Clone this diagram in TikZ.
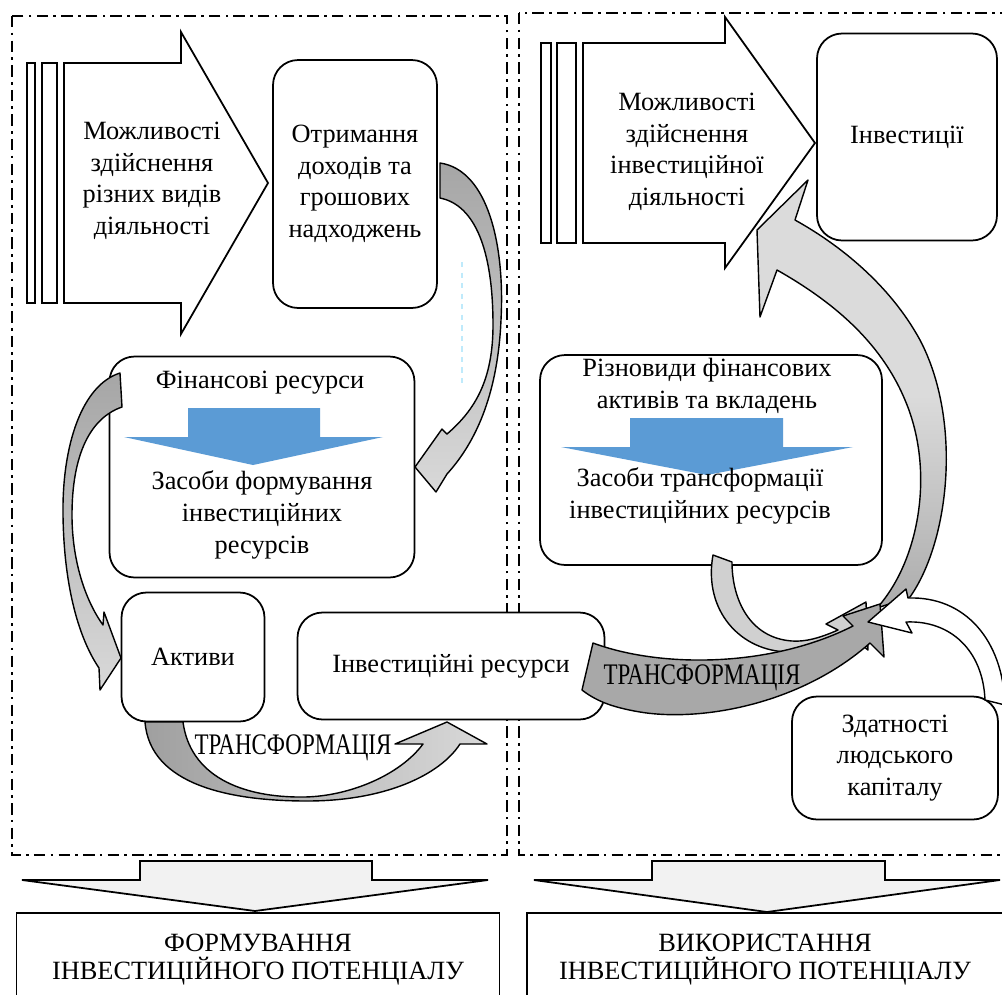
\documentclass[tikz,border=0pt]{standalone}
\usepackage{fontspec}
\setmainfont{Liberation Serif}
\usepackage{graphicx}
\definecolor{arrblue}{RGB}{91,155,213}
\tikzset{
  box/.style={draw, line width=1pt, rounded corners=0.5cm, fill=white, align=center},
  flatbox/.style={draw, line width=1pt, fill=white, align=center},
  frame/.style={line width=1pt, dash pattern=on 6.5pt off 3pt on 1.5pt off 3pt},
  band/.style={draw, line width=0.8pt, line join=round},
  txt/.style={align=center, inner sep=0pt},
  bigcaps/.style={font=\fontsize{17}{18}\selectfont},
}
\begin{document}
\begin{tikzpicture}[x=0.02cm, y=-0.02cm, font=\fontsize{15}{18}\selectfont]
\useasboundingbox (0,0) rectangle (1002,995);
\clip (0,0) rectangle (1002,995);

% frames
\draw[frame] (12,16) rectangle (507,855);
\draw[frame] (519,13) rectangle (1030,855);
\draw[cyan!25, dashed, line width=0.6pt] (462,262) -- (462,383);

% big arrows
\draw[line width=1pt, fill=white] (27,63) rectangle (35,303);
\draw[line width=1pt, fill=white] (42,63) rectangle (57,303);
\draw[line width=1pt, fill=white] (64,63) -- (181,63) -- (181,32) -- (268,183) -- (181,334) -- (181,303) -- (64,303) -- cycle;
\node[txt] (chances) at (152,181) {Можливості\\здійснення\\різних видів\\діяльності};

\draw[line width=1pt, fill=white] (541,43) rectangle (551,243);
\draw[line width=1pt, fill=white] (557,43) rectangle (576,243);
\draw[line width=1pt, fill=white] (583,43) -- (725,43) -- (725,17) -- (815,143) -- (725,268) -- (725,243) -- (583,243) -- cycle;
\node[txt] (invchances) at (687,152) {Можливості\\здійснення\\інвестиційної\\діяльності};

% boxes
\node[box, minimum width=3.28cm, minimum height=4.96cm] (income) at (355,184) {Отримання\\доходів та\\грошових\\надходжень};
\node[box, minimum width=3.6cm, minimum height=4.14cm] (invest) at (907,137) {Інвестиції};
\node[box, minimum width=6.1cm, minimum height=4.42cm] (finres) at (262,467) {};
\node[box, minimum width=6.84cm, minimum height=4.2cm] (kinds) at (711,460) {};
\node[box, minimum width=2.86cm, minimum height=2.58cm] (assets) at (193,657) {Активи};
\node[box, minimum width=6.14cm, minimum height=2.14cm] (invres) at (451,666) {Інвестиційні ресурси};
\node[box, minimum width=4.12cm, minimum height=2.46cm] (human) at (895,758) {Здатності\\людського\\капіталу};

% blue arrows inside
\fill[arrblue] (188,408) -- (320,408) -- (320,437) -- (383,437) -- (253,465) -- (124,437) -- (188,437) -- cycle;
\fill[arrblue] (630,418) -- (783,418) -- (783,447) -- (853,447) -- (707,475) -- (561,447) -- (630,447) -- cycle;
\node[txt] (fintop) at (260,383) {Фінансові ресурси};
\node[txt] (finbot) at (262,515) {Засоби формування\\інвестиційних\\ресурсів};
\node[txt] (kindstop) at (707,386) {Різновиди фінансових\\активів та вкладень};
\node[txt] (kindsbot) at (700,496) {Засоби трансформації\\інвестиційних ресурсів};

% curved arrows, left part
\draw[band, top color=gray!70, bottom color=gray!30]
  (440,163) .. controls (488,170) and (505,245) .. (501,320)
  .. controls (498,390) and (478,440) .. (447,474)
  -- (436,492) -- (415,467) -- (442,429) -- (447,434)
  .. controls (475,410) and (493,380) .. (493,325)
  .. controls (493,250) and (475,205) .. (440,198) -- cycle;
\draw[band, top color=gray!70, bottom color=gray!30]
  (120,373) .. controls (82,385) and (62,445) .. (63,515)
  .. controls (64,590) and (80,640) .. (99,668)
  -- (100,690) -- (121,658) -- (104,612) -- (103,625)
  .. controls (85,600) and (72,560) .. (72,515)
  .. controls (72,455) and (90,418) .. (122,407) -- cycle;
\draw[band, left color=gray!75, right color=gray!30]
  (145,722) .. controls (150,785) and (230,801) .. (307,801)
  .. controls (385,801) and (440,775) .. (460,744)
  -- (487,744) -- (447,722) -- (395,744) -- (423,744)
  .. controls (400,775) and (350,796) .. (305,797)
  .. controls (240,798) and (190,775) .. (183,722) -- cycle;
\node[txt, bigcaps] (transleft) at (293,748) {\scalebox{0.77}[1]{ТРАНСФОРМАЦІЯ}};

% curved arrows, right part
\draw[band, top color=gray!28, bottom color=gray!65, middle color=gray!28]
  (910,597) .. controls (950,540) and (962,420) .. (920,340)
  .. controls (890,285) and (840,245) .. (795,220)
  -- (808,180) -- (757,230) -- (760,317) -- (777,270)
  .. controls (830,300) and (880,340) .. (905,400)
  .. controls (935,470) and (920,560) .. (877,608) -- cycle;
\draw[band, fill=gray!37]
  (713,555) .. controls (703,610) and (740,652) .. (790,652)
  .. controls (820,652) and (840,645) .. (853,638)
  -- (868,650) -- (866,602) -- (826,624) -- (838,630)
  .. controls (820,638) and (805,642) .. (792,641)
  .. controls (750,638) and (732,600) .. (732,562) -- cycle;
\draw[band, fill=gray!68]
  (593,643) .. controls (660,668) and (770,668) .. (853,626)
  -- (843,616) -- (880,604) -- (884,657) -- (870,643)
  .. controls (800,705) and (700,722) .. (640,712)
  .. controls (610,707) and (595,700) .. (582,690) -- cycle;
\draw[band, fill=white]
  (1005,705) .. controls (1003,640) and (965,596) .. (908,598)
  -- (906,589) -- (868,622) -- (912,633) -- (906,622)
  .. controls (950,620) and (983,650) .. (985,700) -- cycle;
\node[txt, bigcaps] (transright) at (702,678) {\scalebox{0.77}[1]{ТРАНСФОРМАЦІЯ}};

% bottom arrows and boxes
\draw[line width=1pt, fill=gray!10] (140,861) -- (372,861) -- (372,880) -- (488,880) -- (255,911) -- (22,880) -- (140,880) -- cycle;
\draw[line width=1pt, fill=gray!10] (652,861) -- (885,861) -- (885,880) -- (1000,880) -- (767,912) -- (534,880) -- (652,880) -- cycle;
\node[flatbox, minimum width=9.66cm, minimum height=1.88cm, font=\fontsize{15}{16}\selectfont] (forming) at (258,960) {ФОРМУВАННЯ\\ІНВЕСТИЦІЙНОГО ПОТЕНЦІАЛУ};
\node[flatbox, minimum width=9.52cm, minimum height=1.88cm, font=\fontsize{15}{16}\selectfont] (usage) at (765,960) {ВИКОРИСТАННЯ\\ІНВЕСТИЦІЙНОГО ПОТЕНЦІАЛУ};
\end{tikzpicture}
\end{document}
